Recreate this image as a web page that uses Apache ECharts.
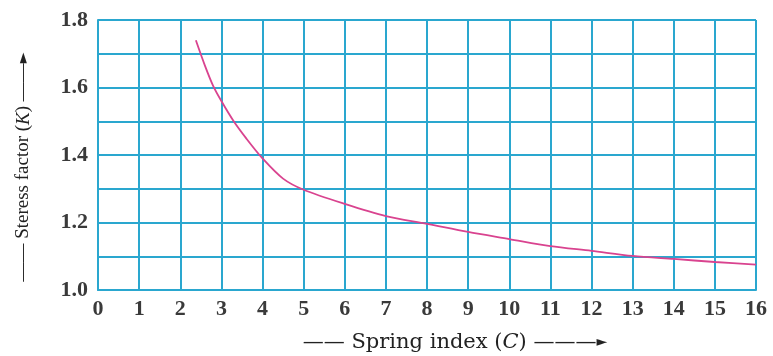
<!DOCTYPE html>
<html>
<head>
<meta charset="utf-8">
<script src="https://cdn.jsdelivr.net/npm/echarts@6/dist/echarts.min.js"></script>
<style>
  html, body { margin: 0; padding: 0; background: #fff; }
  #chart { width: 773px; height: 356px; }
</style>
</head>
<body>
<div id="chart"></div>
<script>
// spring index C and stress factor K
const springIndex = [2.38, 2.6, 2.8, 3.0, 3.3, 3.6, 4.0, 4.5, 5, 6, 7, 8, 9, 10, 11, 12, 13, 14, 15, 16];
const stressFactor = [1.74, 1.665, 1.605, 1.56, 1.50, 1.45, 1.39, 1.33, 1.297, 1.255, 1.219, 1.196, 1.172, 1.151, 1.13, 1.116, 1.101, 1.092, 1.083, 1.075];

const xName = 'Spring index';
const yName = 'Steress factor';

const gridColor = '#2aa7cf';
const chartDom = document.getElementById('chart');
const chart = echarts.init(chartDom);

const labelFont = {
  fontFamily: 'Liberation Serif',
  fontWeight: 'bold',
  fontSize: 22,
  color: '#3a3a3a'
};

let option = {
  animation: false,
  backgroundColor: '#ffffff',
  grid: { left: 98, right: 17, top: 20, bottom: 66, outerBoundsMode: 'none' },
  xAxis: {
    type: 'value',
    min: 0,
    max: 16,
    interval: 1,
    name: '—— ' + xName + ' ({i|C}) ———{a|►}',
    nameLocation: 'middle',
    nameGap: 42,
    nameTextStyle: {
      fontFamily: 'DejaVu Serif',
      fontSize: 21,
      color: '#222',
      padding: [0, 0, 0, 56],
      rich: {
        i: { fontFamily: 'DejaVu Serif', fontStyle: 'italic', fontSize: 21, color: '#222' },
        a: { fontFamily: 'DejaVu Sans', fontSize: 14, color: '#222' }
      }
    },
    axisLine: { lineStyle: { color: gridColor, width: 2 } },
    axisTick: { show: false },
    axisLabel: Object.assign({ margin: 8 }, labelFont),
    splitLine: { show: true, lineStyle: { color: gridColor, width: 2 } }
  },
  yAxis: {
    type: 'value',
    min: 1.0,
    max: 1.8,
    interval: 0.1,
    name: '—— ' + yName + ' ({i|K}) ——{a|►}',
    nameLocation: 'middle',
    nameRotate: 90,
    nameGap: 65,
    nameTextStyle: {
      fontFamily: 'Liberation Serif',
      fontSize: 19,
      color: '#222',
      padding: [0, 24, 0, 0],
      rich: {
        i: { fontFamily: 'Liberation Serif', fontStyle: 'italic', fontSize: 19, color: '#222' },
        a: { fontFamily: 'DejaVu Sans', fontSize: 14, color: '#222' }
      }
    },
    axisLine: { show: true, lineStyle: { color: gridColor, width: 2 } },
    axisTick: { show: false },
    axisLabel: Object.assign({
      margin: 10,
      formatter: function (v) {
        return Math.round(v * 10) % 2 === 0 ? v.toFixed(1) : '';
      }
    }, labelFont),
    splitLine: { show: true, lineStyle: { color: gridColor, width: 2 } }
  },
  series: [
    {
      type: 'line',
      data: springIndex.map((c, i) => [c, stressFactor[i]]),
      smooth: 0.3,
      showSymbol: false,
      lineStyle: { color: '#d9438f', width: 1.8 }
    }
  ]
};
option && chart.setOption(option);
</script>
</body>
</html>
